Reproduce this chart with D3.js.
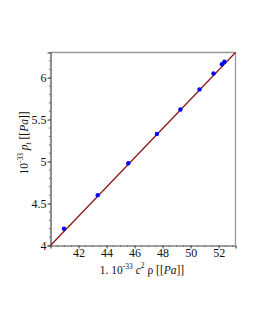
<!DOCTYPE html>
<html>
<head>
<meta charset="utf-8">
<script src="https://cdn.jsdelivr.net/npm/d3@7"></script>
<style>
  body { margin: 0; background: #fff; }
  text { font-family: "Liberation Serif", "DejaVu Serif", serif; }
</style>
</head>
<body>
<div id="space"></div>
<script>
// measured points (x: 1e-33 c^2 rho, y: 1e-33 p_t)
var xs = [40.96, 43.37, 45.55, 47.59, 49.27, 50.63, 51.63, 52.23, 52.41];
var ys = [4.20, 4.60, 4.98, 5.33, 5.62, 5.86, 6.05, 6.16, 6.19];
// fitted line ends
var lineX = [40, 53.2];
var lineY = [4, 6.3];
var xTicks = [42, 44, 46, 48, 50, 52];
var yTicks = [4, 4.5, 5, 5.5, 6];

var svg, x, y;

function init()
{
    svg = d3.select("#space").append("svg")
        .attr("width", 255)
        .attr("height", 330);

    var left = 50.5, right = 235.5, top = 52.5, bottom = 245.5;

    x = d3.scaleLinear().domain([40, 53.2]).range([left, right]);
    y = d3.scaleLinear().domain([4, 6.3]).range([bottom, top]);

    //Box (top / right) in gray
    svg.append("path")
        .attr("d", "M" + left + "," + top + "H" + right + "V" + bottom)
        .attr("fill", "none")
        .attr("stroke", "#999")
        .attr("stroke-width", 1.3);

    //Axes
    var xAxis = d3.axisBottom(x).tickValues(xTicks).tickSize(3).tickFormat(d3.format("d"));
    var yAxis = d3.axisLeft(y).tickValues(yTicks).tickSize(3).tickFormat(function (d) { return d3.format("")(d); });

    var gx = svg.append("g").attr("transform", "translate(0," + bottom + ")").call(xAxis);
    var gy = svg.append("g").attr("transform", "translate(" + left + ",0)").call(yAxis);

    //Minor ticks
    var xMinor = d3.range(40, 53.21, 0.5);
    var yMinor = d3.range(4, 6.31, 0.1);
    gx.selectAll(".minor").data(xMinor).enter().append("line")
        .attr("x1", function (d) { return x(d); }).attr("x2", function (d) { return x(d); })
        .attr("y1", 0).attr("y2", 1.5).attr("stroke", "#666");
    gy.selectAll(".minor").data(yMinor).enter().append("line")
        .attr("y1", function (d) { return y(d); }).attr("y2", function (d) { return y(d); })
        .attr("x1", 0).attr("x2", -1.5).attr("stroke", "#666");

    [gx, gy].forEach(function (g) {
        g.attr("font-family", null);
        g.select(".domain").attr("stroke", "#444").attr("stroke-width", 1.2);
        g.selectAll(".tick line").attr("stroke", "#444");
        g.selectAll("text")
            .style("font-family", "'Liberation Serif', serif")
            .attr("font-size", 12)
            .attr("fill", "#111");
    });
    gx.selectAll("text").attr("y", 3);
    gy.selectAll("text").attr("x", -4);

    //Line
    svg.append("line")
        .attr("x1", x(lineX[0])).attr("y1", y(lineY[0]))
        .attr("x2", x(lineX[1])).attr("y2", y(lineY[1]))
        .attr("stroke", "#8b1a1a")
        .attr("stroke-width", 1.3);

    //Points
    svg.append("g").selectAll("circle")
        .data(xs).enter().append("circle")
        .attr("cx", function (d) { return x(d); })
        .attr("cy", function (d, i) { return y(ys[i]); })
        .attr("r", 2.2)
        .attr("fill", "#0000ff");

    //X label
    var xl = svg.append("text")
        .attr("x", 142)
        .attr("y", 274)
        .attr("text-anchor", "middle")
        .attr("font-size", 11.5)
        .attr("fill", "#111");
    xl.append("tspan").text("1. 10");
    xl.append("tspan").attr("dy", -5).attr("font-size", 7.5).text("-33");
    xl.append("tspan").attr("dy", 5).text(" ");
    xl.append("tspan").attr("font-style", "italic").text("c");
    xl.append("tspan").attr("dy", -6).attr("font-size", 7.5).text("2");
    xl.append("tspan").attr("dy", 6).text(" ρ ");
    xl.append("tspan").text("[[");
    xl.append("tspan").attr("font-style", "italic").text("Pa");
    xl.append("tspan").text("]]");

    //Y label
    var yl = svg.append("text")
        .attr("transform", "translate(28,143) rotate(-90)")
        .attr("text-anchor", "middle")
        .attr("font-size", 11.5)
        .attr("fill", "#111");
    yl.append("tspan").text("10");
    yl.append("tspan").attr("dy", -5).attr("font-size", 7.5).text("-33");
    yl.append("tspan").attr("dy", 5).text(" ");
    yl.append("tspan").attr("font-style", "italic").text("p");
    yl.append("tspan").attr("dy", 3).attr("font-size", 7.5).attr("font-style", "italic").text("t");
    yl.append("tspan").attr("dy", -3).text(" [[");
    yl.append("tspan").attr("font-style", "italic").text("Pa");
    yl.append("tspan").text("]]");
}

init();
</script>
</body>
</html>
